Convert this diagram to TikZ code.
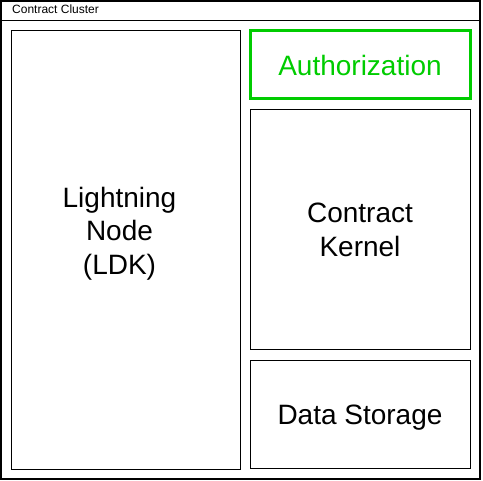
\documentclass[tikz,border=0pt]{standalone}
\usepackage{fontspec}
\setmainfont{Liberation Sans}
\definecolor{authgreen}{HTML}{00CC00}
\tikzset{
	block/.style={draw, line width=1pt, inner sep=0pt, align=center, font=\fontsize{28}{33.6}\selectfont},
	label text/.style={inner sep=0pt, align=center, font=\fontsize{28}{33.6}\selectfont},
}

\begin{document}
\begin{tikzpicture}[x=1pt, y=-1pt]
			%%%%% START %%%%%
			\useasboundingbox (0, 0) rectangle (483, 481);
			
			\draw[line width=1.4pt] (1, 1) rectangle (480, 479);
			\draw[line width=1.6pt] (1, 20.5) -- (480, 20.5);
			\node[anchor=base west, inner sep=0pt, font=\fontsize{12}{14}\selectfont] (title) at (12, 14) {Contract Cluster};
			
			\node[block, minimum width=229pt, minimum height=439pt] (ldk) at (125.5, 250.5) {};
			\node[label text] (ldktext) at ([xshift=-6pt, yshift=17pt]ldk.center) {Lightning\\Node\\(LDK)};
			
			\node[block, draw=authgreen, text=authgreen, line width=3pt, minimum width=220pt, minimum height=68pt] (auth) at (360, 65) {Authorization};
			
			\node[block, minimum width=220pt, minimum height=240pt] (kernel) at (360, 230) {Contract\\Kernel};
			
			\node[block, minimum width=220pt, minimum height=108pt] (storage) at (360, 415) {};
			\node[label text] (storagetext) at ([yshift=-3pt]storage.center) {Data Storage};
			%%%%% END %%%%%
\end{tikzpicture}
\end{document}
